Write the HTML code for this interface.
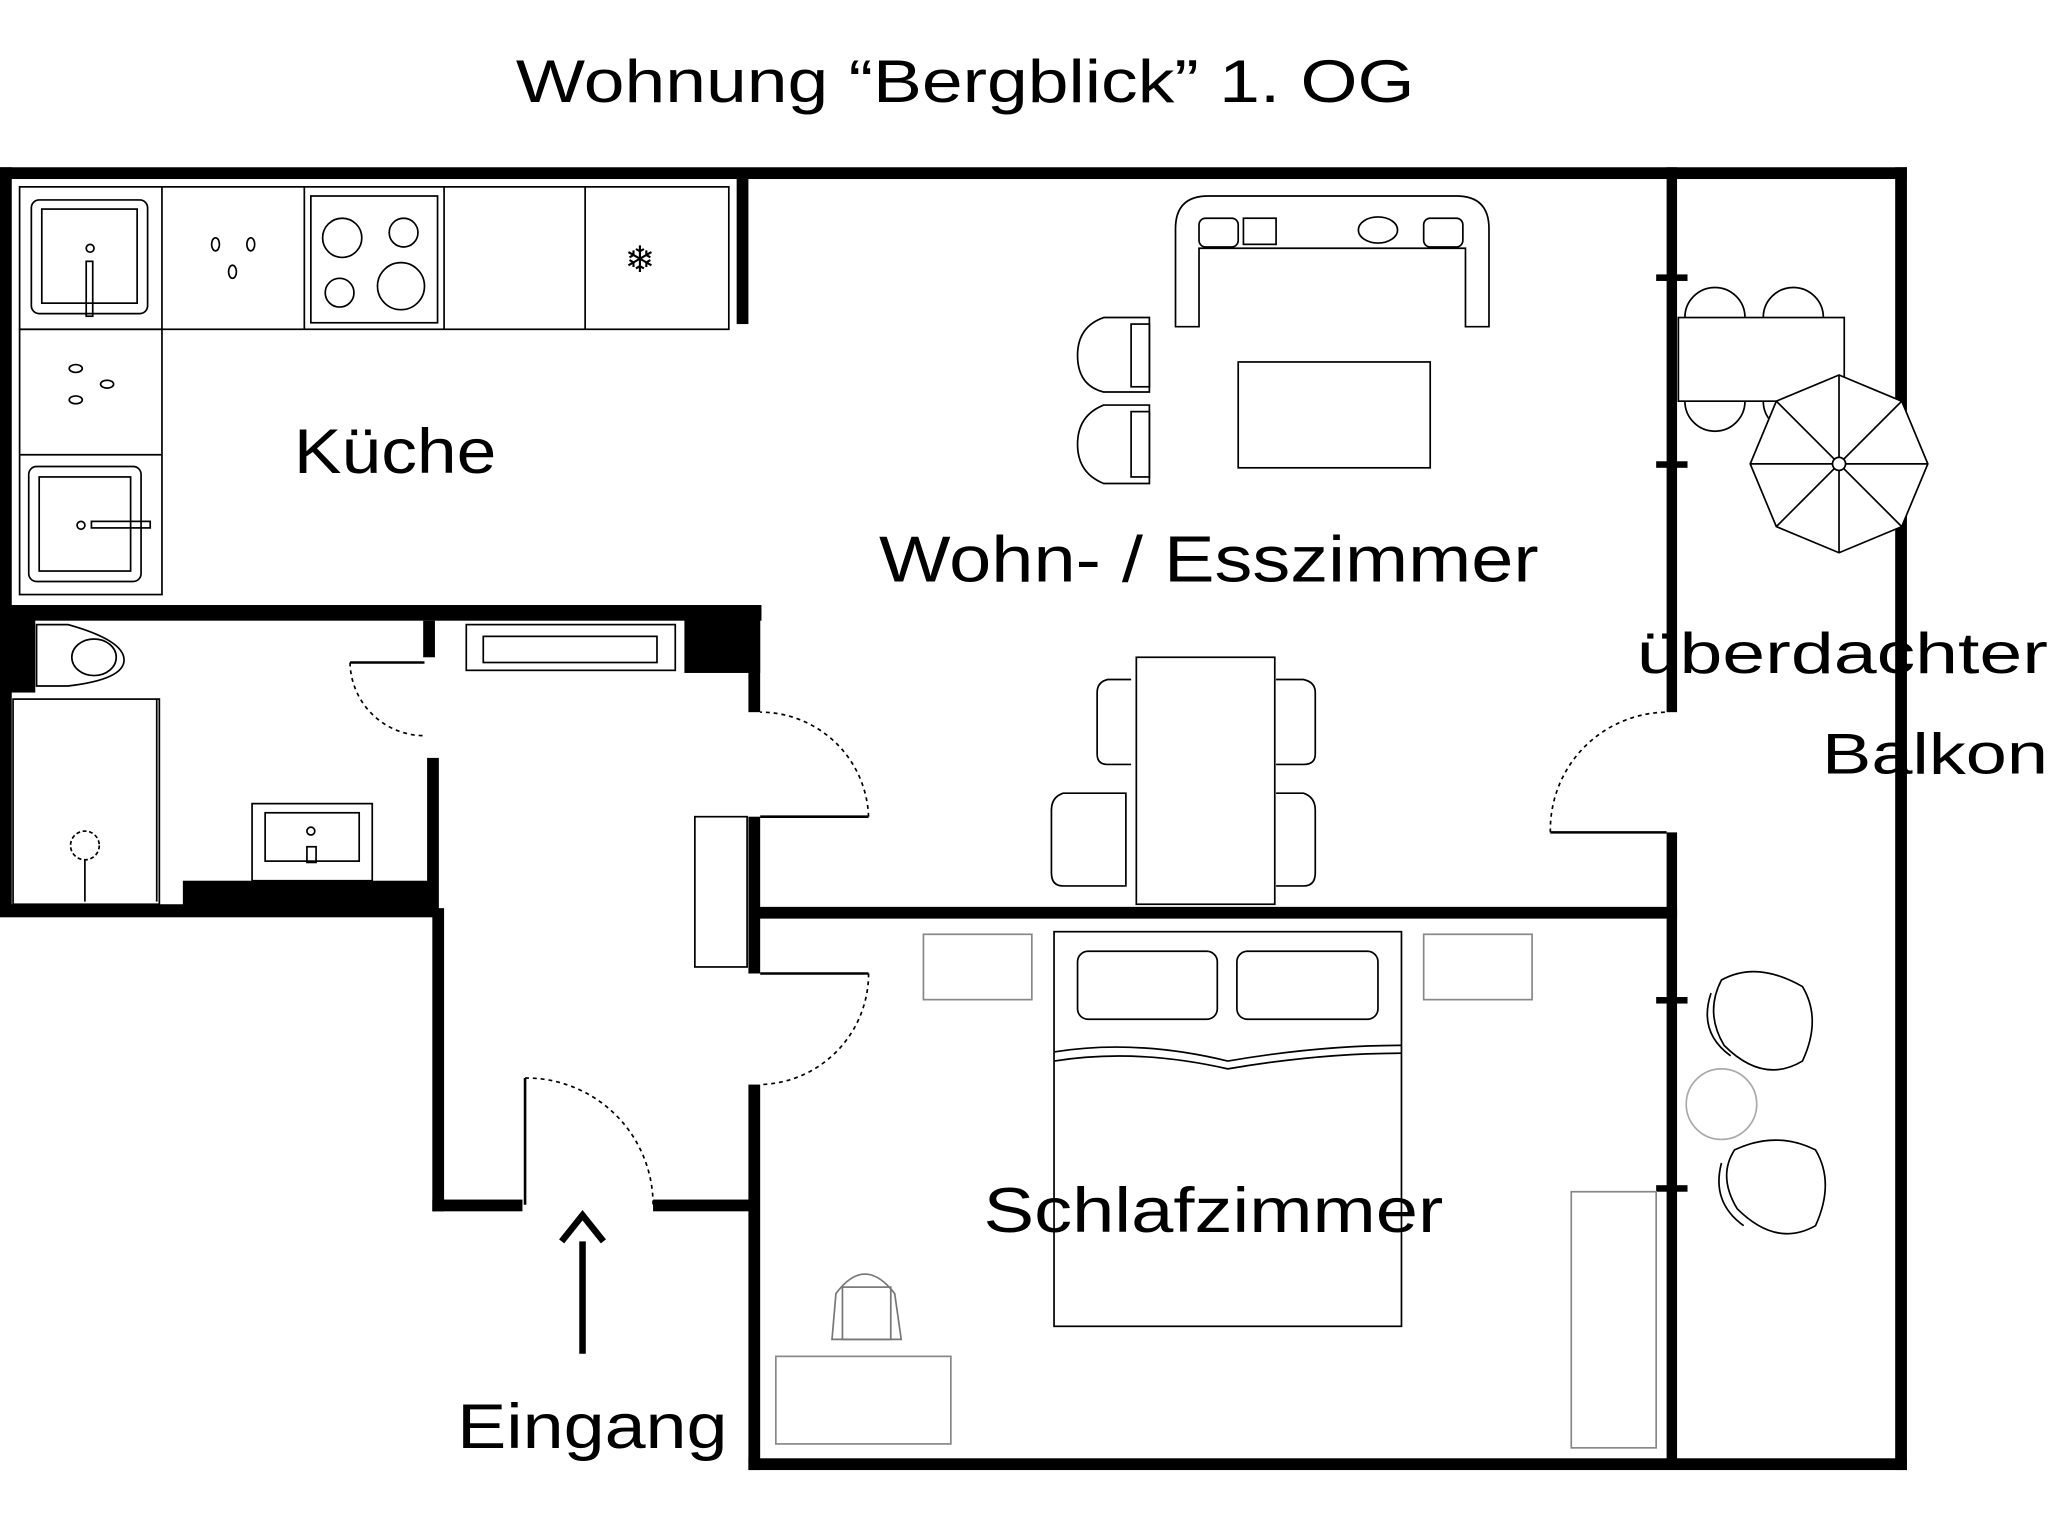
<!DOCTYPE html>
<html><head><meta charset="utf-8"><style>
html,body{margin:0;padding:0;background:#fff;}
svg{display:block;}
text{font-family:"Liberation Sans",sans-serif;fill:#000;}
</style></head><body>
<svg width="2048" height="1538" viewBox="0 0 1568 1177" preserveAspectRatio="none" xmlns="http://www.w3.org/2000/svg">
<rect width="1568" height="1177" fill="#fff"/>
<text x="395" y="78" font-size="46" textLength="688" lengthAdjust="spacingAndGlyphs">Wohnung “Bergblick” 1. OG</text>

<!-- walls -->
<g fill="#000">
<rect x="0" y="128" width="1460" height="9"/>
<rect x="0" y="128" width="9" height="572"/>
<rect x="0" y="463" width="583" height="12"/>
<rect x="564" y="133" width="9" height="115"/>
<rect x="0" y="470" width="27" height="60"/>
<rect x="524" y="470" width="58" height="45"/>
<rect x="573" y="470" width="9" height="75"/>
<rect x="0" y="692" width="335" height="10"/>
<rect x="140" y="674" width="192" height="20"/>
<rect x="324" y="475" width="9" height="28"/>
<rect x="327" y="580" width="9" height="120"/>
<rect x="331" y="695" width="9" height="232"/>
<rect x="331" y="918" width="69" height="9"/>
<rect x="500" y="918" width="77" height="9"/>
<rect x="573" y="625" width="9" height="120"/>
<rect x="573" y="830" width="9" height="295"/>
<rect x="573" y="1116" width="887" height="9"/>
<rect x="577" y="694" width="707" height="9"/>
<rect x="1276" y="128" width="8" height="417"/>
<rect x="1276" y="637" width="8" height="485"/>
<rect x="1451" y="128" width="9" height="997"/>
<rect x="1268" y="210" width="24" height="5"/>
<rect x="1268" y="353" width="24" height="5"/>
<rect x="1268" y="763" width="24" height="5"/>
<rect x="1268" y="907" width="24" height="5"/>
</g>

<g fill="none" stroke="#000" stroke-width="1.3">
<!-- kitchen -->
<rect x="15" y="143" width="543" height="109"/>
<line x1="124" y1="143" x2="124" y2="252"/><line x1="233" y1="143" x2="233" y2="252"/>
<line x1="340" y1="143" x2="340" y2="252"/><line x1="448" y1="143" x2="448" y2="252"/>
<rect x="15" y="252" width="109" height="203"/><line x1="15" y1="348" x2="124" y2="348"/>
<rect x="24" y="153" width="89" height="87" rx="6"/><rect x="32" y="160" width="73" height="72"/>
<circle cx="69" cy="190" r="3"/><rect x="66" y="200" width="5" height="42"/>
<rect x="22" y="357" width="86" height="88" rx="6"/><rect x="30" y="365" width="70" height="72"/>
<circle cx="62" cy="402" r="3"/><rect x="70" y="399" width="45" height="5"/>
<rect x="238" y="150" width="97" height="97"/>
<circle cx="262" cy="182" r="15"/><circle cx="309" cy="178" r="11"/>
<circle cx="260" cy="224" r="11"/><circle cx="307" cy="219" r="18"/>
<ellipse cx="165" cy="187" rx="3" ry="5"/><ellipse cx="192" cy="187" rx="3" ry="5"/><ellipse cx="178" cy="208" rx="3" ry="5"/>
<ellipse cx="58" cy="282" rx="5" ry="3"/><ellipse cx="82" cy="294" rx="5" ry="3"/><ellipse cx="58" cy="306" rx="5" ry="3"/>
<!-- bath -->
<path d="M28 478 H52 Q95 490 95 505 Q95 520 52 525 H28 Z"/><ellipse cx="72" cy="503" rx="17" ry="14"/>
<rect x="10" y="535" width="112" height="157"/><line x1="120" y1="535" x2="120" y2="690"/>
<circle cx="65" cy="647" r="11" stroke-dasharray="3 2"/><line x1="65" y1="658" x2="65" y2="690"/>
<rect x="193" y="615" width="92" height="59"/><rect x="203" y="622" width="72" height="37"/>
<circle cx="238" cy="636" r="3"/><rect x="235" y="648" width="7" height="12"/>
<!-- hall -->
<rect x="357" y="478" width="160" height="35"/><rect x="370" y="487" width="133" height="20"/>
<rect x="532" y="625" width="40" height="115"/>
<!-- doors -->
<path d="M325 507 H268" stroke-width="2"/><path d="M268 507 A57 57 0 0 0 325 563" stroke-dasharray="3 3"/>
<path d="M582 625 H665" stroke-width="2"/><path d="M665 625 A83 83 0 0 0 582 545" stroke-dasharray="3 3"/>
<path d="M582 745 H665" stroke-width="2"/><path d="M665 745 A85 85 0 0 1 582 830" stroke-dasharray="3 3"/>
<path d="M402 922 V825" stroke-width="2"/><path d="M402 825 A97 97 0 0 1 500 922" stroke-dasharray="3 3"/>
<path d="M1276 637 H1187" stroke-width="2"/><path d="M1187 637 A90 90 0 0 1 1276 545" stroke-dasharray="3 3"/>
<!-- living -->
<path d="M900 250 V175 Q900 150 925 150 H1115 Q1140 150 1140 175 V250 H1122 V190 H918 V250 Z"/>
<rect x="918" y="167" width="30" height="22" rx="5"/><rect x="952" y="167" width="25" height="20"/>
<ellipse cx="1055" cy="176" rx="15" ry="10"/><rect x="1090" y="167" width="30" height="22" rx="5"/>
<rect x="948" y="277" width="147" height="81"/>
<path d="M880 243 H845 Q825 250 825 272 Q825 295 845 300 H880 Z"/><rect x="866" y="248" width="14" height="48"/>
<path d="M880 310 H845 Q825 318 825 340 Q825 362 845 370 H880 Z"/><rect x="866" y="315" width="14" height="50"/>
<rect x="870" y="503" width="106" height="189"/>
<path d="M866 520 H848 Q840 522 840 530 V577 Q840 585 848 585 H866"/>
<path d="M862 607 H814 Q805 610 805 620 V668 Q805 678 814 678 H862 Z"/>
<path d="M977 520 H998 Q1007 522 1007 530 V577 Q1007 585 998 585 H977"/>
<path d="M977 607 H998 Q1007 610 1007 620 V668 Q1007 678 998 678 H977"/>
<!-- balcony -->
<rect x="1285" y="243" width="127" height="64"/>
<path d="M1290 243 A23 23 0 0 1 1336 243"/><path d="M1350 243 A23 23 0 0 1 1396 243"/>
<path d="M1290 307 A23 23 0 0 0 1336 307"/><path d="M1350 307 A23 23 0 0 0 1396 307"/>
<polygon points="1408,287 1456,307 1476,355 1456,403 1408,423 1360,403 1340,355 1360,307" fill="#fff"/>
<path d="M1408 287 V423 M1340 355 H1476 M1360 307 L1456 403 M1456 307 L1360 403"/>
<circle cx="1408" cy="355" r="5" fill="#fff"/>
<path d="M1318 750 Q1345 735 1380 755 Q1395 780 1380 812 Q1350 830 1320 800 Q1305 775 1318 750 Z"/>
<path d="M1310 760 Q1300 790 1325 808"/>
<circle cx="1318" cy="845" r="27" stroke="#aaa"/>
<path d="M1328 880 Q1360 865 1390 880 Q1405 905 1390 938 Q1360 955 1330 925 Q1315 900 1328 880 Z"/>
<path d="M1318 890 Q1310 920 1335 938"/>
<!-- bedroom -->
<rect x="707" y="715" width="83" height="50" stroke="#888"/><rect x="1090" y="715" width="83" height="50" stroke="#888"/>
<rect x="807" y="713" width="266" height="302"/>
<rect x="825" y="728" width="107" height="52" rx="8"/><rect x="947" y="728" width="108" height="52" rx="8"/>
<path d="M807 805 Q870 795 940 812 Q1010 800 1073 800"/><path d="M807 812 Q870 802 940 818 Q1010 806 1073 806"/>
<rect x="594" y="1038" width="134" height="67" stroke="#888"/>
<path d="M640 990 Q662 960 685 990 L690 1025 H637 Z" stroke="#777"/><rect x="645" y="985" width="37" height="40" stroke="#777"/>
<rect x="1203" y="912" width="65" height="196" stroke="#888"/>
</g>
<text x="490" y="208" font-size="28" text-anchor="middle">❄</text>
<!-- arrow -->
<line x1="446" y1="1036" x2="446" y2="950" stroke="#000" stroke-width="5"/>
<polyline points="430,950 446,930 462,950" fill="none" stroke="#000" stroke-width="5"/>

<text x="225" y="362" font-size="48" textLength="155" lengthAdjust="spacingAndGlyphs">Küche</text>
<text x="673" y="445" font-size="50" textLength="505" lengthAdjust="spacingAndGlyphs">Wohn- / Esszimmer</text>
<text x="1253" y="515" font-size="44" textLength="315" lengthAdjust="spacingAndGlyphs">überdachter</text>
<text x="1395" y="592" font-size="44" textLength="173" lengthAdjust="spacingAndGlyphs">Balkon</text>
<text x="753" y="943" font-size="48" textLength="352" lengthAdjust="spacingAndGlyphs">Schlafzimmer</text>
<text x="350" y="1108" font-size="48" textLength="207" lengthAdjust="spacingAndGlyphs">Eingang</text>
</svg>
</body></html>
